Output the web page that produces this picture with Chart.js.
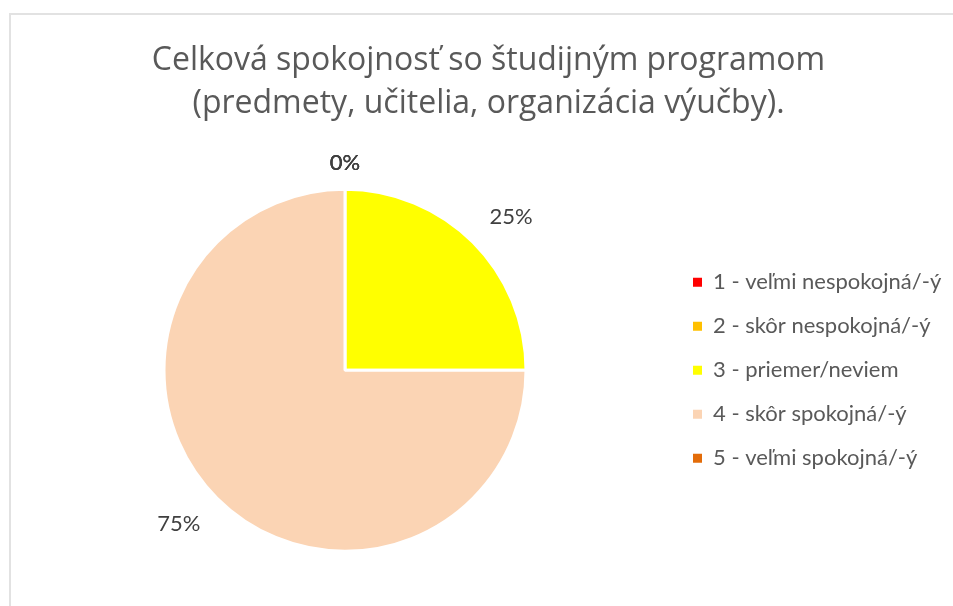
<!DOCTYPE html>
<html>
<head>
<meta charset="utf-8">
<script src="https://cdn.jsdelivr.net/npm/chart.js@4"></script>
<style>
  html, body { margin: 0; padding: 0; background: #fff; overflow: hidden; width: 953px; height: 606px; }
  #frame { position: absolute; left: 9px; top: 13px; width: 956px; height: 600px; border: 2px solid #e2e2e2; }
  #chart { display: block; }
</style>
</head>
<body>
<div id="frame"><canvas id="chart" width="956" height="600"></canvas></div>
<script>
const titleLines = ["Celková spokojnosť so študijným programom", "(predmety, učitelia, organizácia výučby)."];
const categories = ["1 - veľmi nespokojná/-ý", "2 - skôr nespokojná/-ý", "3 - priemer/neviem", "4 - skôr spokojná/-ý", "5 - veľmi spokojná/-ý"];
const values = [0, 0, 25, 75, 0];
const colors = ["#FF0000", "#FFC000", "#FFFF00", "#FBD4B4", "#E36C09"];

const FONT = "Lato";
const legendSize = 22;
const legendPad = 22;
const boxSize = 9;

// percentage labels outside the slices
const outLabels = {
    id: 'outLabels',
    afterDatasetsDraw(chart) {
        const ctx = chart.ctx;
        const meta = chart.getDatasetMeta(0);
        const total = values.reduce((a, b) => a + b, 0);
        ctx.save();
        ctx.font = legendSize + "px " + FONT;
        ctx.fillStyle = "#404040";
        ctx.textAlign = "center";
        ctx.textBaseline = "middle";
        meta.data.forEach((arc, i) => {
            const p = arc.getProps(['x', 'y', 'startAngle', 'endAngle', 'outerRadius'], true);
            // excel nudges the best-fit labels a little clockwise
            const mid = (p.startAngle + p.endAngle) / 2 + (values[i] > 0 ? 0.04 : 0);
            const txt = Math.round(values[i] / total * 100) + "%";
            const hw = ctx.measureText(txt).width / 2;
            const c = Math.cos(mid), s = Math.sin(mid);
            const d = p.outerRadius + 26 + 1.2 * Math.abs(hw * c);
            ctx.fillText(txt, p.x + c * d, p.y + s * d);
        });
        ctx.restore();
    }
};

// keep the legend box a fixed width, so the pie sits left of centre like in excel
const legendWidth = {
    id: 'legendWidth',
    afterInit(chart) {
        const lg = chart.legend;
        const fit = lg.fit;
        lg.fit = function () {
            fit.call(this);
            this.width = 287;
        };
    }
};

let ctx = document.getElementById('chart').getContext('2d');

let pieChart = new Chart(ctx, {
    type: 'pie',
    data: {
        labels: categories,
        datasets: [{
            data: values,
            backgroundColor: colors,
            borderColor: "#ffffff",
            borderWidth: 3
        }]
    },
    options: {
        responsive: false,
        animation: false,
        radius: 181,
        layout: { padding: { left: 8, right: 9, top: 0, bottom: 0 } },
        plugins: {
            tooltip: { enabled: false },
            title: {
                display: true,
                text: titleLines,
                color: "#595959",
                font: { family: "Open Sans", size: 32, weight: 'normal', lineHeight: 1.344 },
                padding: { top: 24.5, bottom: 0 }
            },
            legend: {
                position: 'right',
                fullSize: false,
                labels: {
                    color: "#595959",
                    font: { family: FONT, size: legendSize },
                    boxWidth: boxSize,
                    boxHeight: boxSize,
                    padding: legendPad,
                    generateLabels(chart) {
                        const items = Chart.overrides.pie.plugins.legend.labels.generateLabels(chart);
                        items.forEach(it => { it.lineWidth = 0; });
                        return items;
                    }
                }
            }
        }
    },
    plugins: [outLabels, legendWidth]
});
</script>
</body>
</html>
